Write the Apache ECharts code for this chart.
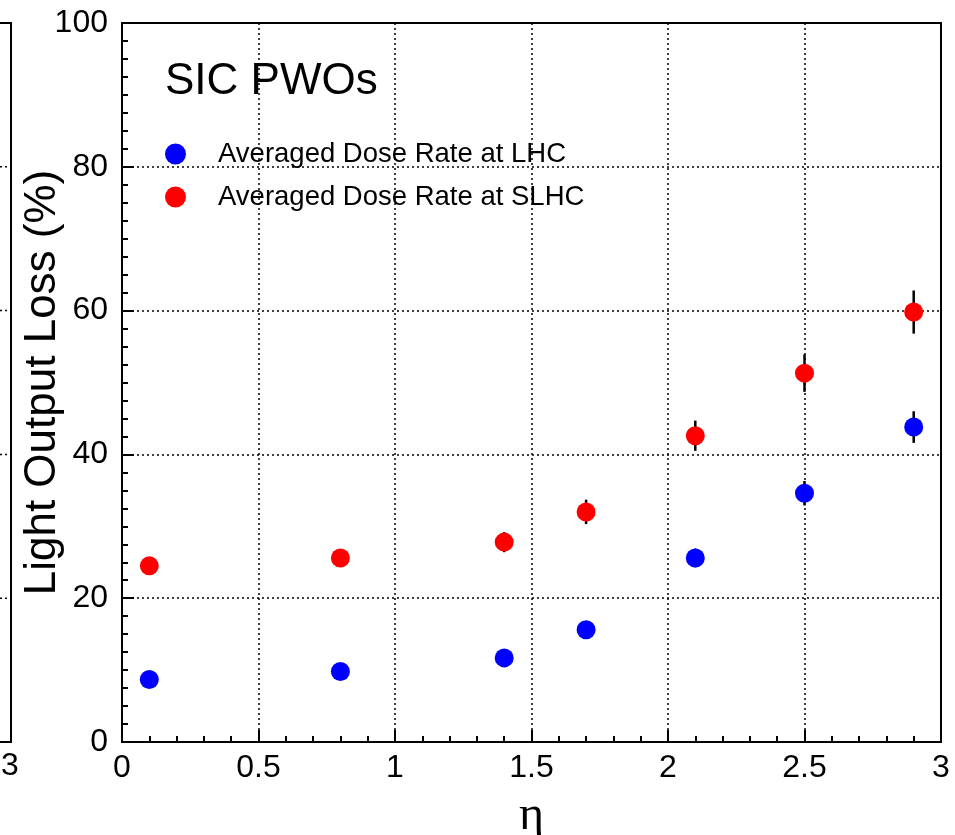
<!DOCTYPE html>
<html>
<head>
<meta charset="utf-8">
<script src="https://cdn.jsdelivr.net/npm/echarts@6/dist/echarts.min.js"></script>
<style>html,body{margin:0;padding:0;background:#fff}#c{width:955px;height:835px}</style>
</head>
<body>
<div id="c"></div>
<script>
const eta = [0.1, 0.8, 1.4, 1.7, 2.1, 2.5, 2.9];
const lhcLoss = [8.7, 9.8, 11.7, 15.6, 25.6, 34.6, 43.8];
const lhcErr = [0.5, 0.5, 0.6, 0.8, 1.3, 1.7, 2.2];
const slhcLoss = [24.5, 25.6, 27.8, 32.0, 42.6, 51.3, 59.8];
const slhcErr = [1.1, 1.2, 1.4, 1.7, 2.1, 2.6, 3.0];
const yTicks = [0, 20, 40, 60, 80, 100];
const xTicks = [0, 0.5, 1, 1.5, 2, 2.5, 3];

const FONT = 'Liberation Sans, Arial, Helvetica, sans-serif';
const chart = echarts.init(document.getElementById('c'), null, {renderer: 'canvas'});

function errSeries(vals, errs) {
  return {
    type: 'custom',
    silent: true,
    z: 1,
    data: eta.map((x, i) => [x, vals[i], errs[i]]),
    renderItem: function (params, api) {
      const x = api.value(0), y = api.value(1), e = api.value(2);
      const p1 = api.coord([x, y - e]);
      const p2 = api.coord([x, y + e]);
      return {
        type: 'line',
        shape: {x1: p1[0], y1: p1[1], x2: p2[0], y2: p2[1]},
        style: {stroke: '#000', lineWidth: 2.5}
      };
    }
  };
}

const gridYs = yTicks.slice(1, 5);
const fragGraphics = [
  {type: 'polyline', shape: {points: [[0, 23], [11, 23], [11, 742], [0, 742]]}, style: {stroke: '#000', lineWidth: 2, fill: null}},
  {type: 'text', style: {text: '3', x: 10, y: 766, fontSize: 32, fontFamily: FONT, fill: '#000', align: 'center', verticalAlign: 'middle'}}
];

chart.setOption({
  animation: false,
  backgroundColor: '#fff',
  grid: {left: 122, top: 23, right: 14, bottom: 93, show: true, borderColor: '#000', borderWidth: 2,
    containLabel: false, outerBoundsMode: 'none'},
  xAxis: {
    type: 'value', min: 0, max: 3, interval: 0.5,
    name: 'η', nameLocation: 'middle', nameGap: 50, nameMoveOverlap: false,
    nameTextStyle: {fontSize: 48, fontFamily: 'Liberation Serif, DejaVu Serif, serif', color: '#000'},
    axisLine: {show: true, lineStyle: {color: '#000', width: 2}},
    axisTick: {show: true, inside: true, length: 12, lineStyle: {color: '#000', width: 2}},
    minorTick: {show: true, splitNumber: 5, length: 6, lineStyle: {color: '#000', width: 2}},
    axisLabel: {fontSize: 32, fontFamily: FONT, color: '#000', margin: 10,
      formatter: v => { const s = xTicks.find(t => Math.abs(t - v) < 1e-9); return s === undefined ? '' : String(s); }},
    splitLine: {show: true, lineStyle: {color: '#000', width: 1.5, type: [2, 3]}}
  },
  yAxis: {
    type: 'value', min: 0, max: 100, interval: 20,
    name: 'Light Output Loss (%)', nameLocation: 'middle', nameGap: 57, nameMoveOverlap: false,
    nameTextStyle: {fontSize: 44, fontFamily: FONT, color: '#000'},
    axisLine: {show: true, lineStyle: {color: '#000', width: 2}},
    axisTick: {show: true, inside: true, length: 12, lineStyle: {color: '#000', width: 2}},
    minorTick: {show: true, splitNumber: 8, length: 6, lineStyle: {color: '#000', width: 2}},
    axisLabel: {fontSize: 32, fontFamily: FONT, color: '#000', margin: 14,
      formatter: v => { const s = yTicks.find(t => Math.abs(t - v) < 1e-9); return s === undefined ? '' : String(s); }},
    splitLine: {show: true, lineStyle: {color: '#000', width: 1.5, type: [2, 3]}}
  },
  title: {
    text: 'SIC PWOs', left: 160, top: 55,
    textStyle: {fontSize: 44, fontWeight: 'normal', fontFamily: FONT, color: '#000'}
  },
  legend: {
    orient: 'vertical', left: 160, top: 135,
    itemWidth: 21, itemHeight: 21, itemGap: 15,
    icon: 'circle',
    data: ['Averaged Dose Rate at LHC', 'Averaged Dose Rate at SLHC'],
    textStyle: {fontSize: 27.5, fontFamily: FONT, color: '#000', padding: [0, 0, 0, 27], lineHeight: 21}
  },
  graphic: fragGraphics.concat(gridYs.map(v => ({
    type: 'line', shape: {x1: 0, y1: 742 - v * 7.19, x2: 10, y2: 742 - v * 7.19},
    style: {stroke: '#000', lineWidth: 1.5, lineDash: [2, 3]}
  }))),
  series: [
    errSeries(lhcLoss, lhcErr),
    errSeries(slhcLoss, slhcErr),
    {name: 'Averaged Dose Rate at LHC', type: 'scatter', z: 3, symbol: 'circle', symbolSize: 19,
      itemStyle: {color: '#0000ff', opacity: 1}, data: eta.map((x, i) => [x, lhcLoss[i]])},
    {name: 'Averaged Dose Rate at SLHC', type: 'scatter', z: 3, symbol: 'circle', symbolSize: 19,
      itemStyle: {color: '#ff0000', opacity: 1}, data: eta.map((x, i) => [x, slhcLoss[i]])}
  ]
});
</script>
</body>
</html>
